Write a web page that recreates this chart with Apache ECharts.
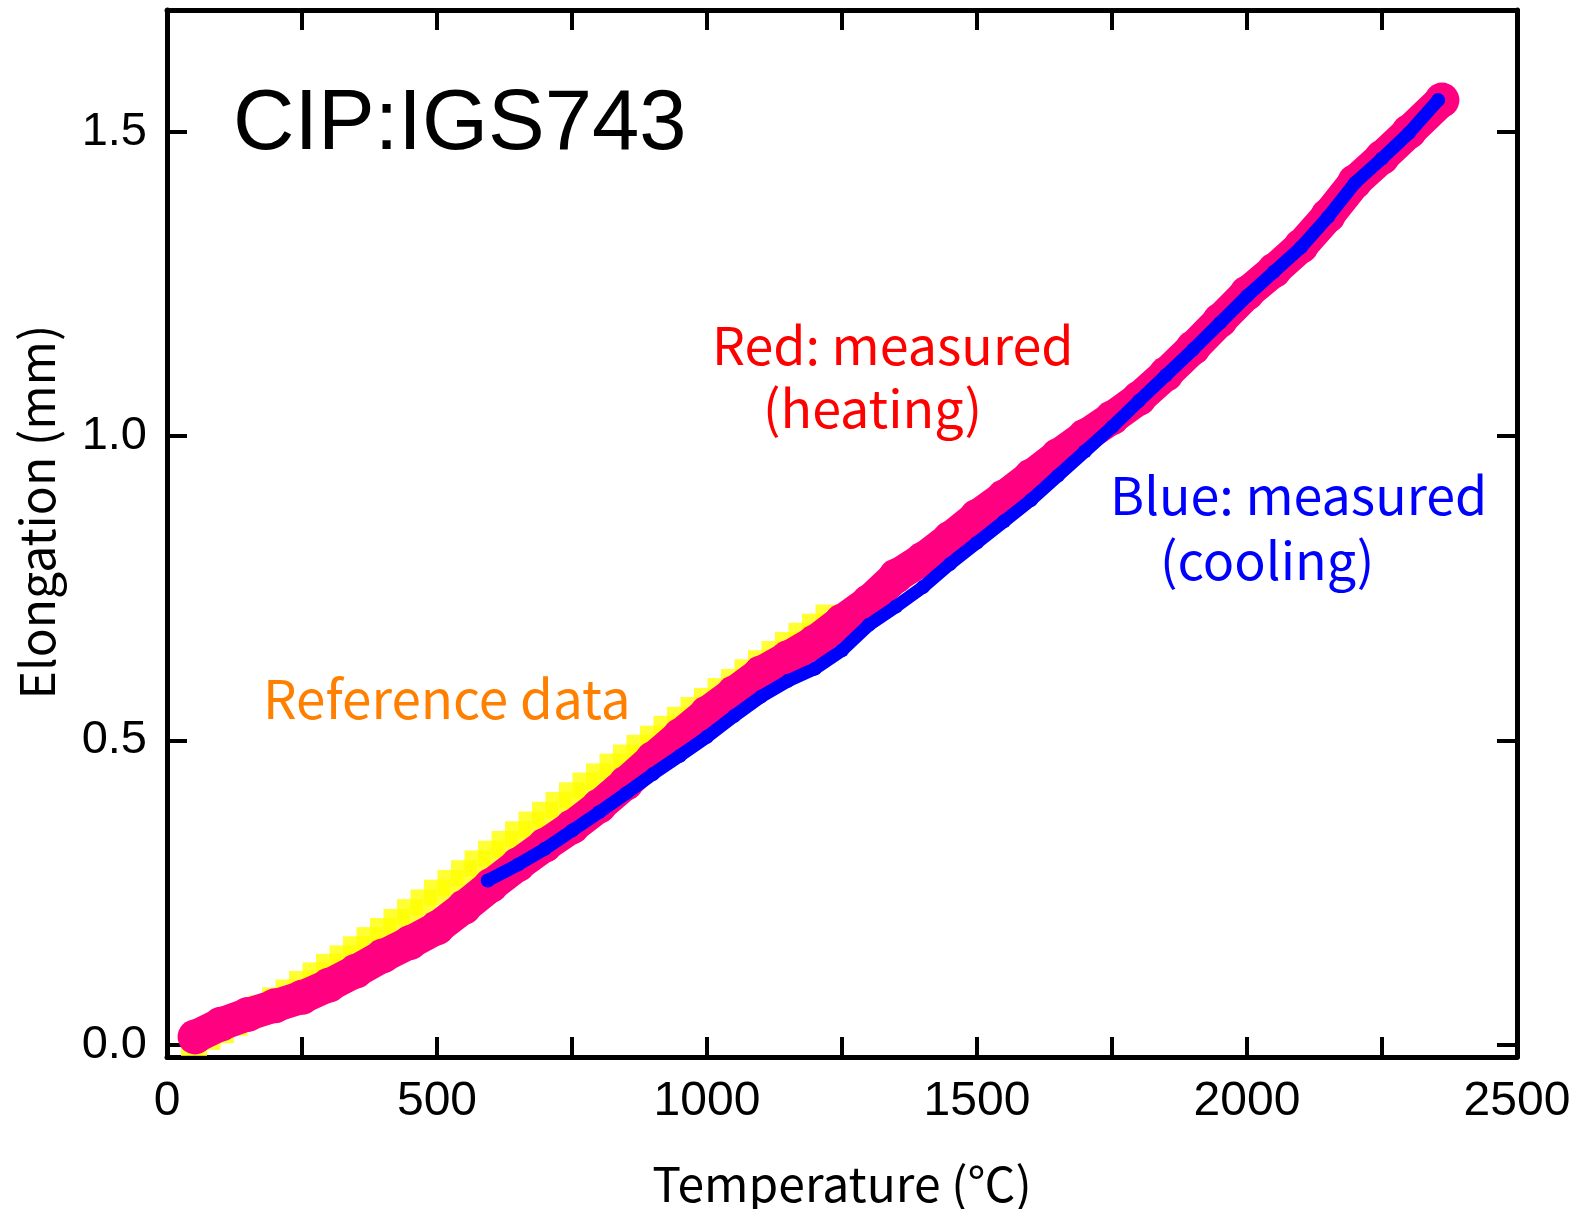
<!DOCTYPE html>
<html>
<head>
<meta charset="utf-8">
<script src="https://cdn.jsdelivr.net/npm/echarts@6/dist/echarts.min.js"></script>
<style>
html,body{margin:0;padding:0;background:#fff;}
#chart{width:1577px;height:1209px;}
</style>
</head>
<body>
<div id="chart"></div>
<script>
// Reference data (yellow squares)
const refT = [50,75,100,125,150,175,200,225,250,275,300,325,350,375,400,425,450,475,500,525,550,575,600,625,650,675,700,725,750,775,800,825,850,875,900,925,950,975,1000,1025,1050,1075,1100,1125,1150,1175,1200,1225];
const refE = [0.003,0.013,0.024,0.036,0.048,0.060,0.073,0.086,0.100,0.114,0.128,0.142,0.157,0.172,0.187,0.202,0.218,0.234,0.250,0.266,0.282,0.298,0.314,0.330,0.346,0.362,0.378,0.394,0.410,0.426,0.441,0.457,0.472,0.488,0.503,0.519,0.534,0.550,0.565,0.581,0.596,0.612,0.627,0.642,0.657,0.672,0.687,0.702];

// Measured heating (red)
const heatT = [52,100,150,200,250,300,350,400,450,500,550,600,650,700,750,800,850,900,950,1000,1050,1100,1150,1200,1250,1300,1350,1400,1450,1500,1550,1600,1650,1700,1750,1800,1850,1900,1950,2000,2050,2100,2150,2200,2250,2300,2361];
const heatE = [0.013,0.034,0.050,0.064,0.078,0.098,0.121,0.146,0.168,0.192,0.226,0.262,0.296,0.328,0.358,0.392,0.430,0.470,0.508,0.545,0.578,0.611,0.636,0.662,0.696,0.728,0.770,0.798,0.832,0.868,0.900,0.934,0.968,1.000,1.030,1.062,1.102,1.145,1.190,1.235,1.272,1.312,1.362,1.418,1.458,1.500,1.552];

// Measured cooling (blue)
const coolT = [594,650,700,750,800,850,900,950,1000,1050,1100,1150,1200,1250,1300,1350,1400,1450,1500,1550,1600,1650,1700,1750,1800,1850,1900,1950,2000,2050,2100,2150,2200,2250,2300,2354];
const coolE = [0.270,0.296,0.322,0.352,0.382,0.413,0.445,0.475,0.506,0.540,0.572,0.598,0.618,0.648,0.690,0.720,0.752,0.790,0.825,0.860,0.895,0.935,0.975,1.015,1.058,1.100,1.142,1.186,1.230,1.270,1.310,1.360,1.416,1.456,1.498,1.552];

const yTickValues = [0, 0.5, 1.0, 1.5];
const xTitle = 'Temperature (\u2103)';
const yTitle = 'Elongation (mm)';

const zip = (a, b) => a.map((v, i) => [v, b[i]]);

const chart = echarts.init(document.getElementById('chart'), null, {renderer: 'canvas'});
const axisLine = {show: true, onZero: false, lineStyle: {color: '#000', width: 5}};
const tick = {show: true, inside: true, length: 20, lineStyle: {color: '#000', width: 4}};
const cjk = '"Noto Sans CJK JP", "Noto Sans", sans-serif';

chart.setOption({
  animation: false,
  backgroundColor: '#fff',
  grid: {left: 167, right: 60, top: 10, bottom: 152, containLabel: false, outerBoundsMode: 'none'},
  xAxis: [{
    type: 'value', min: 0, max: 2500, interval: 250, position: 'bottom',
    axisLine: axisLine, axisTick: tick, splitLine: {show: false},
    axisLabel: {
      margin: 21, color: '#000', fontSize: 48, fontFamily: '"Liberation Sans", Arial, sans-serif',
      formatter: v => (v % 500 === 0 ? String(v) : '')
    },
    name: xTitle, nameLocation: 'middle', nameGap: 103,
    nameTextStyle: {fontSize: 48, color: '#000', fontFamily: cjk}
  }, {
    type: 'value', min: 0, max: 2500, interval: 250, position: 'top',
    axisLine: axisLine, axisTick: tick, splitLine: {show: false}, axisLabel: {show: false}
  }],
  yAxis: [{
    type: 'value', min: -0.02, max: 1.7, position: 'left',
    axisLine: axisLine,
    axisTick: Object.assign({}, tick, {customValues: yTickValues}),
    splitLine: {show: false},
    axisLabel: {
      customValues: yTickValues, margin: 20, color: '#000', fontSize: 47,
      fontFamily: '"Liberation Sans", Arial, sans-serif', formatter: v => v.toFixed(1)
    }
  }, {
    type: 'value', min: -0.02, max: 1.7, position: 'right',
    axisLine: axisLine,
    axisTick: Object.assign({}, tick, {customValues: yTickValues}),
    splitLine: {show: false}, axisLabel: {show: false}
  }],
  series: [{
    name: 'Reference data', type: 'scatter', data: zip(refT, refE),
    symbol: 'rect', symbolSize: 26, itemStyle: {color: '#ffff00'}, z: 2
  }, {
    name: 'Heating', type: 'line', data: zip(heatT, heatE),
    symbol: 'circle', symbolSize: 35, showAllSymbol: true,
    lineStyle: {color: '#ff0080', width: 33, cap: 'round', join: 'round'},
    itemStyle: {color: '#ff0080'}, z: 3
  }, {
    name: 'Cooling', type: 'line', data: zip(coolT, coolE),
    symbol: 'circle', symbolSize: 14, showAllSymbol: true,
    lineStyle: {color: '#0000ff', width: 13, cap: 'round', join: 'round'},
    itemStyle: {color: '#0000ff'}, z: 4
  }],
  graphic: [
    {type: 'text', x: 37, y: 512, rotation: Math.PI / 2,
     style: {text: yTitle, fill: '#000', font: '48px ' + cjk, align: 'center', verticalAlign: 'middle'}},
    {type: 'text', x: 233, y: 126,
     style: {text: 'CIP:IGS743', fill: '#000', font: '85px "Liberation Sans", Arial, sans-serif', align: 'left', verticalAlign: 'middle'}},
    {type: 'text', x: 263, y: 699,
     style: {text: 'Reference data', fill: '#ff8000', font: '53px ' + cjk, align: 'left', verticalAlign: 'middle'}},
    {type: 'text', x: 712, y: 345,
     style: {text: 'Red: measured', fill: '#ff0000', font: '52px ' + cjk, align: 'left', verticalAlign: 'middle'}},
    {type: 'text', x: 763, y: 408,
     style: {text: '(heating)', fill: '#ff0000', font: '52px ' + cjk, align: 'left', verticalAlign: 'middle'}},
    {type: 'text', x: 1110, y: 495,
     style: {text: 'Blue: measured', fill: '#0000ff', font: '52px ' + cjk, align: 'left', verticalAlign: 'middle'}},
    {type: 'text', x: 1160, y: 560,
     style: {text: '(cooling)', fill: '#0000ff', font: '52px ' + cjk, align: 'left', verticalAlign: 'middle'}}
  ]
});
</script>
</body>
</html>
